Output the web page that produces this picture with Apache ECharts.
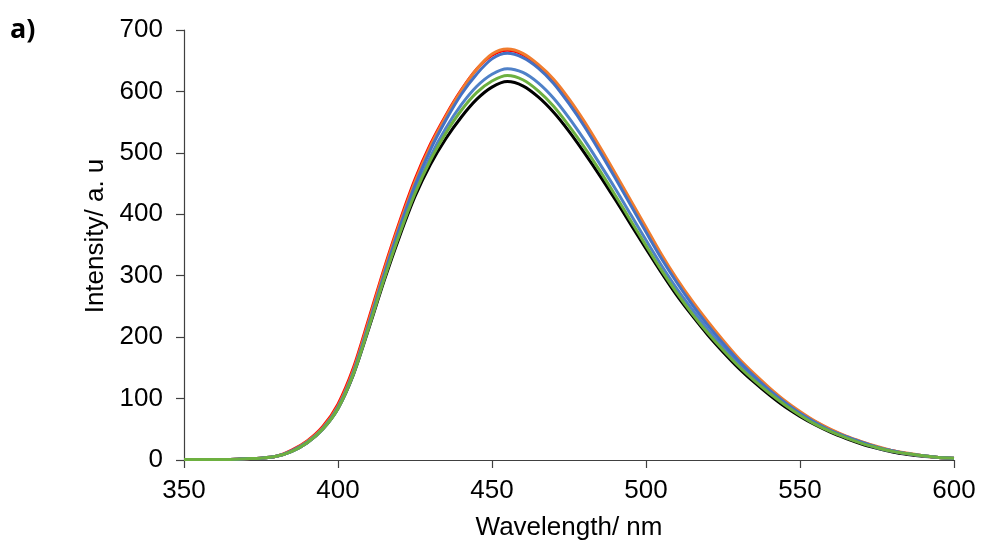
<!DOCTYPE html>
<html>
<head>
<meta charset="utf-8">
<script src="https://cdn.jsdelivr.net/npm/echarts@6/dist/echarts.min.js"></script>
<style>
  html, body { margin: 0; padding: 0; background: #fff; }
  #chart { width: 981px; height: 546px; }
</style>
</head>
<body>
<div id="chart"></div>
<script>
// Emission spectra, intensity vs wavelength (5 nm steps)
const wavelengths = [350,355,360,365,370,375,380,385,390,395,400,405,410,415,420,425,430,435,440,445,450,455,460,465,470,475,480,485,490,495,500,505,510,515,520,525,530,535,540,545,550,555,560,565,570,575,580,585,590,595,600];

const blackSeries = [1,1,1,1,2,3,6,14,28,50,84,139,214,292,364,429,481,523,558,587,607,616,609,591,566,535,500,463,424,384,344,305,268,235,204,176,150,127,106,87,71,57,45,35,26,19,13,9,6,4,2];
const redSeries   = [1,1,1,1,2,3,6,16,31,54,91,150,230,312,388,457,514,561,602,636,659,667,660,642,617,584,547,506,463,419,375,331,292,256,223,192,164,139,116,95,77,62,49,38,29,21,15,10,7,4,3];
const orangeSeries= [1,1,1,1,2,3,6,15,30,52,88,146,226,308,384,453,511,559,601,636,661,669,662,644,620,588,551,510,467,423,379,335,295,259,226,195,166,141,118,97,79,63,50,39,30,22,15,11,7,4,3];
const blue2Series = [1,1,1,1,2,3,6,14,28,50,84,140,217,297,371,438,494,540,578,608,628,637,631,614,589,557,521,482,442,400,358,317,279,245,213,184,157,133,111,91,74,59,47,37,28,20,14,10,7,4,3];
const blueSeries  = [1,1,1,1,2,3,6,15,29,51,86,143,221,302,378,447,505,553,595,628,653,662,655,638,613,580,543,502,459,415,371,328,289,253,220,190,162,137,114,94,76,61,48,38,29,21,15,10,7,4,3];
const greenSeries = [1,1,1,1,2,3,6,14,28,50,84,140,216,295,368,434,488,532,569,598,617,626,619,601,576,544,509,471,431,390,349,309,272,238,207,179,153,130,109,90,73,58,46,36,27,20,14,10,7,4,3];

const xTicks = [350, 400, 450, 500, 550, 600];
const yTicks = [0, 100, 200, 300, 400, 500, 600, 700];

// drawn in order: later series sit on top
const lines = [
  { name: 'black',  data: blackSeries,  color: '#000000' },
  { name: 'red',    data: redSeries,    color: '#FF0000' },
  { name: 'orange', data: orangeSeries, color: '#F07C2E' },
  { name: 'blue2',  data: blue2Series,  color: '#4F81C8' },
  { name: 'blue',   data: blueSeries,   color: '#4472C4' },
  { name: 'green',  data: greenSeries,  color: '#6DB040' }
];

const chart = echarts.init(document.getElementById('chart'), null, { renderer: 'canvas' });

const axisFont = { fontFamily: 'Liberation Sans, Arial, sans-serif', fontSize: 26, color: '#000' };

chart.setOption({
  animation: false,
  backgroundColor: '#ffffff',
  grid: { left: 184, right: 27, top: 30, bottom: 86, containLabel: false },
  graphic: [{
    type: 'text',
    left: 10,
    top: 17,
    style: { text: 'a)', font: 'bold 27px "Open Sans", "Liberation Sans", sans-serif', fill: '#000' }
  }],
  xAxis: {
    type: 'value',
    min: xTicks[0],
    max: xTicks[xTicks.length - 1],
    interval: 50,
    name: 'Wavelength/ nm',
    nameLocation: 'middle',
    nameGap: 55,
    nameTextStyle: axisFont,
    axisLine: { show: true, onZero: false, lineStyle: { color: '#404040', width: 1.2 } },
    axisTick: { show: true, inside: false, length: 8, lineStyle: { color: '#404040', width: 1.2 } },
    axisLabel: { margin: 18, ...axisFont },
    splitLine: { show: false }
  },
  yAxis: {
    type: 'value',
    min: yTicks[0],
    max: yTicks[yTicks.length - 1],
    interval: 100,
    name: 'Intensity/ a. u',
    nameLocation: 'middle',
    nameGap: 74,
    nameTextStyle: { ...axisFont, padding: [0, 0, 0, 18] },
    axisLine: { show: true, lineStyle: { color: '#404040', width: 1.2 } },
    axisTick: { show: true, inside: false, length: 8, lineStyle: { color: '#404040', width: 1.2 } },
    axisLabel: { margin: 21, ...axisFont },
    splitLine: { show: false }
  },
  series: lines.map(s => ({
    name: s.name,
    type: 'line',
    data: wavelengths.map((w, i) => [w, s.data[i]]),
    smooth: 0.3,
    showSymbol: false,
    symbol: 'none',
    lineStyle: { color: s.color, width: 3 },
    itemStyle: { color: s.color }
  }))
});
</script>
</body>
</html>
